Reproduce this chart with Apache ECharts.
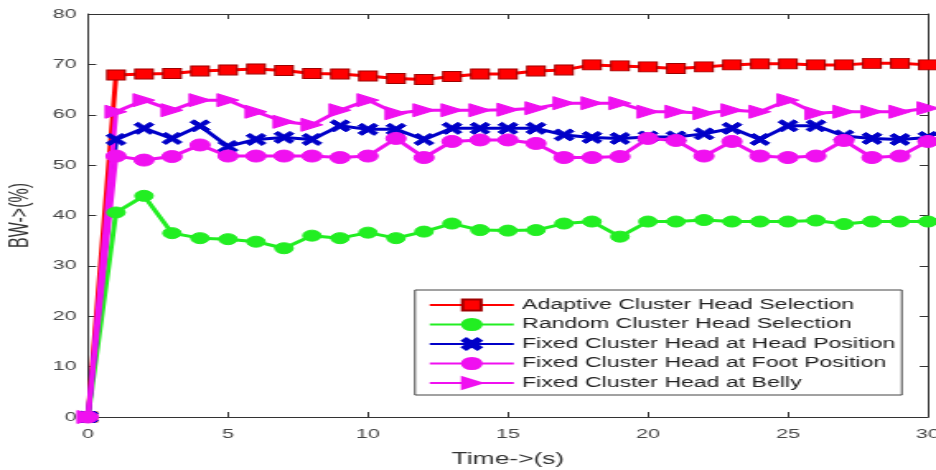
<!DOCTYPE html>
<html>
<head>
<meta charset="utf-8">
<script src="https://cdn.jsdelivr.net/npm/echarts@6/dist/echarts.min.js"></script>
<style>
html,body{margin:0;padding:0;overflow:hidden;background:#fff;width:936px;height:470px;}
#wrap{width:936px;height:470px;overflow:hidden;position:relative;}
#chart{width:568px;height:470px;transform:scaleX(1.6479);transform-origin:0 0;position:absolute;left:0;top:0;}
</style>
</head>
<body>
<div id="wrap"><div id="chart"></div></div>
<script>
var time = [0,1,2,3,4,5,6,7,8,9,10,11,12,13,14,15,16,17,18,19,20,21,22,23,24,25,26,27,28,29,30];
var adaptive = [0,67.9,68.1,68.2,68.7,68.9,69.1,68.8,68.2,68.1,67.7,67.2,67.0,67.6,68.1,68.1,68.7,68.9,69.9,69.7,69.5,69.2,69.5,69.9,70.1,70.1,69.9,69.9,70.2,70.2,69.9];
var random = [0,40.6,43.9,36.5,35.5,35.3,34.8,33.5,36.0,35.5,36.6,35.5,36.8,38.4,37.1,37.0,37.1,38.4,38.8,35.8,38.8,38.8,39.1,38.8,38.8,38.8,39.0,38.3,38.8,38.8,38.8];
var headPos = [0,55.1,57.3,55.3,57.8,53.7,55.1,55.5,55.1,57.8,57.1,57.1,55.1,57.3,57.3,57.3,57.3,56.0,55.5,55.3,55.6,55.6,56.2,57.3,55.1,57.8,57.8,55.8,55.3,55.1,55.5];
var footPos = [0,51.8,51.0,51.7,54.0,51.8,51.8,51.8,51.8,51.5,51.8,55.3,51.5,54.7,55.0,55.0,54.3,51.5,51.5,51.7,55.3,54.9,51.8,54.7,51.8,51.5,51.8,54.9,51.5,51.8,54.7];
var belly = [0,60.6,62.9,60.9,62.9,62.9,60.6,58.6,58.0,60.9,62.9,60.3,60.9,60.9,60.9,61.0,61.3,62.3,62.3,62.3,60.6,60.6,60.3,60.9,60.6,62.9,60.3,60.6,60.6,60.6,61.3];
var names = ['Adaptive Cluster Head Selection','Random Cluster Head Selection','Fixed Cluster Head at Head Position','Fixed Cluster Head at Foot Position','Fixed Cluster Head at Belly'];
var xTicks = [0,5,10,15,20,25,30];
var yTicks = [0,10,20,30,40,50,60,70,80];

function pairs(arr){ return time.map(function(t,i){ return [t, arr[i]]; }); }

var xPath = 'path://M0,2 L2,0 L5,3 L8,0 L10,2 L7,5 L10,8 L8,10 L5,7 L2,10 L0,8 L3,5 Z';
var font = 'Liberation Sans';
var axisCol = '#333';

function mk(name, data, color, symbol, size, rot, border){
  return {
    name: name, type: 'line', data: pairs(data),
    symbol: symbol, symbolSize: size, symbolRotate: rot || 0,
    showAllSymbol: true,
    lineStyle: {color: color, width: 3},
    itemStyle: {color: color, borderColor: border || color, borderWidth: 1},
    emphasis: {disabled: true}
  };
}

var chart = echarts.init(document.getElementById('chart'), null, {renderer: 'canvas'});
chart.setOption({
  animation: false,
  backgroundColor: '#fff',
  textStyle: {fontFamily: font},
  grid: {left: 53.4, right: 4.9, top: 14, bottom: 53, containLabel: false, outerBoundsMode: 'none'},
  xAxis: [{
    type: 'value', min: 0, max: 30, interval: 5,
    name: 'Time->(s)', nameLocation: 'middle', nameGap: 35,
    nameTextStyle: {fontSize: 16, color: axisCol, fontFamily: font},
    axisLine: {show: true, lineStyle: {color: axisCol, width: 1}},
    axisTick: {show: true, inside: true, length: 5, lineStyle: {color: axisCol}},
    axisLabel: {fontSize: 13, color: '#444', margin: 11, fontFamily: font,
      customValues: xTicks},
    splitLine: {show: false}
  },{
    type: 'value', min: 0, max: 30, interval: 5, position: 'top',
    axisLine: {show: true, onZero: false, lineStyle: {color: axisCol, width: 1}},
    axisTick: {show: true, inside: true, length: 5, lineStyle: {color: axisCol}},
    axisLabel: {show: false}, splitLine: {show: false}
  }],
  yAxis: [{
    type: 'value', min: 0, max: 80, interval: 10,
    name: 'BW->(%)', nameLocation: 'middle', nameGap: 30,
    nameTextStyle: {fontSize: 16, color: axisCol, fontFamily: font},
    axisLine: {show: true, lineStyle: {color: axisCol, width: 1}},
    axisTick: {show: true, inside: true, length: 5, lineStyle: {color: axisCol}},
    axisLabel: {fontSize: 13, color: '#444', margin: 7, fontFamily: font,
      customValues: yTicks},
    splitLine: {show: false}
  },{
    type: 'value', min: 0, max: 80, interval: 10, position: 'right',
    axisLine: {show: true, onZero: false, lineStyle: {color: axisCol, width: 1}},
    axisTick: {show: true, inside: true, length: 5, lineStyle: {color: axisCol}},
    axisLabel: {show: false}, splitLine: {show: false}
  }],
  legend: {
    data: names, orient: 'vertical', left: 251.8, top: 290,
    padding: [8, 4, 5, 8], itemGap: 5.5, itemWidth: 51, itemHeight: 14,
    backgroundColor: '#fff', borderColor: '#444', borderWidth: 1,
    textStyle: {fontSize: 14, color: '#222', fontFamily: font, lineHeight: 14, width: 224, overflow: 'none'},
    selectedMode: false
  },
  series: [
    mk(names[0], adaptive, '#ff0000', 'rect', [11,10], 0, '#a00000'),
    mk(names[1], random, '#22ee22', 'circle', 11, 0),
    mk(names[2], headPos, '#0000c8', xPath, 12, 0),
    mk(names[3], footPos, '#f010f0', 'circle', 12, 0),
    mk(names[4], belly, '#f010f0', 'triangle', 13, -90)
  ]
});
</script>
</body>
</html>
